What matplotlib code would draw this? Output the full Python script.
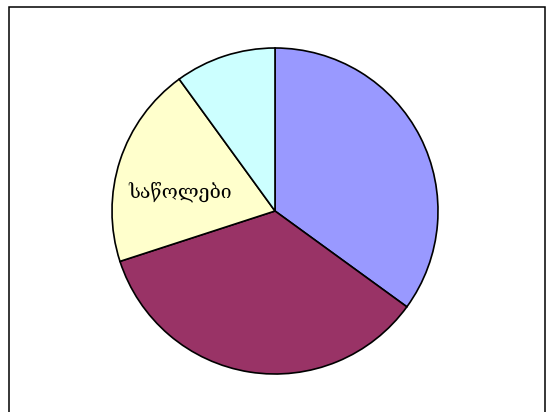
import matplotlib.pyplot as plt
from matplotlib.patches import Rectangle

# slice data (clockwise from top)
categories = ['', '', 'საწოლები', '']
values = [35, 35, 20, 10]
colors = ['#9999FF', '#993366', '#FFFFCC', '#CCFFFF']

fig = plt.figure(figsize=(5.46, 4.12), dpi=100)
ax = fig.add_axes([0, 0, 1, 1])

ax.pie(values, colors=colors, startangle=90, counterclock=False,
       center=(275, 201), radius=163,
       wedgeprops=dict(edgecolor='black', linewidth=1.2))

# label on the yellow slice
ax.text(180, 220, categories[2], ha='center', va='center',
        fontsize=14, family=['DejaVu Serif', 'DejaVu Sans'])

ax.set_xlim(0, 546)
ax.set_ylim(0, 412)
ax.set_aspect('equal')
ax.axis('off')

# chart frame (bottom edge falls outside the image)
fig.patches.append(Rectangle((8.5, -10), 536, 415.5, transform=None,
                             fill=False, edgecolor='black', linewidth=1.1))

plt.savefig('out.png', dpi=100)
